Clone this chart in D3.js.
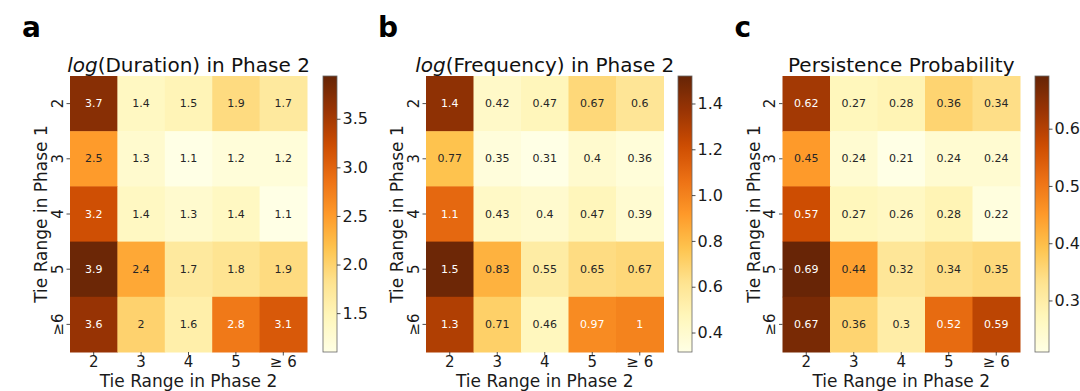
<!DOCTYPE html>
<html><head><meta charset="utf-8">
<script src="https://cdn.jsdelivr.net/npm/d3@7"></script>
<style>
html,body{margin:0;padding:0;background:#fff;}
svg{display:block;}
text{font-family:"DejaVu Sans",sans-serif;}
</style></head>
<body>
<svg id="chart" width="1080" height="391"></svg>
<script>
const rowLabels = ["2","3","4","5","≥6"];
const colLabels = ["2","3","4","5","≥ 6"];
const xAxisTitle = "Tie Range in Phase 2";
const yAxisTitle = "Tie Range in Phase 1";

const durationValues = [
  [3.7,1.4,1.5,1.9,1.7],
  [2.5,1.3,1.1,1.2,1.2],
  [3.2,1.4,1.3,1.4,1.1],
  [3.9,2.4,1.7,1.8,1.9],
  [3.6,2,1.6,2.8,3.1]
];
const frequencyValues = [
  [1.4,0.42,0.47,0.67,0.6],
  [0.77,0.35,0.31,0.4,0.36],
  [1.1,0.43,0.4,0.47,0.39],
  [1.5,0.83,0.55,0.65,0.67],
  [1.3,0.71,0.46,0.97,1]
];
const persistenceValues = [
  [0.62,0.27,0.28,0.36,0.34],
  [0.45,0.24,0.21,0.24,0.24],
  [0.57,0.27,0.26,0.28,0.22],
  [0.69,0.44,0.32,0.34,0.35],
  [0.67,0.36,0.3,0.52,0.59]
];
const durationRange = [1.1, 3.94];
const frequencyRange = [0.315, 1.52];
const persistenceRange = [0.21, 0.692];
const durationTicks = [1.5,2.0,2.5,3.0,3.5];
const frequencyTicks = [0.4,0.6,0.8,1.0,1.2,1.4];
const persistenceTicks = [0.3,0.4,0.5,0.6];

const panels = [
  {letter:"a", titleItalic:"log", title:"(Duration) in Phase 2", data:durationValues, range:durationRange, ticks:durationTicks, fmt:d3.format(".1f"), x0:70, x1:307, cbx:323},
  {letter:"b", titleItalic:"log", title:"(Frequency) in Phase 2", data:frequencyValues, range:frequencyRange, ticks:frequencyTicks, fmt:d3.format(".1f"), x0:426, x1:663.5, cbx:678},
  {letter:"c", titleItalic:"", title:"Persistence Probability", data:persistenceValues, range:persistenceRange, ticks:persistenceTicks, fmt:d3.format(".1f"), x0:782.5, x1:1020, cbx:1035}
];

const ylorbr = ["#ffffe5","#fff7bc","#fee391","#fec44f","#fe9929","#ec7014","#cc4c02","#993404","#662506"];
const plotTop = 76, plotBottom = 352, cbw = 14;

const svg = d3.select("#chart");
svg.append("rect").attr("width",1080).attr("height",391).attr("fill","#fff");

function lum(c){
  const rgb = d3.rgb(c);
  const f = v => { v/=255; return v<=0.03928 ? v/12.92 : Math.pow((v+0.055)/1.055,2.4); };
  return 0.2126*f(rgb.r)+0.7152*f(rgb.g)+0.0722*f(rgb.b);
}

panels.forEach(p => {
  const g = svg.append("g");
  const color = d3.scaleLinear()
    .domain(d3.range(ylorbr.length).map(i => p.range[0] + i*(p.range[1]-p.range[0])/(ylorbr.length-1)))
    .range(ylorbr).interpolate(d3.interpolateRgb).clamp(true);
  const x = d3.scaleBand().domain(colLabels).range([p.x0,p.x1]);
  const y = d3.scaleBand().domain(rowLabels).range([plotTop,plotBottom]);

  const cells = [];
  p.data.forEach((row,i) => row.forEach((v,j) => cells.push({r:rowLabels[i], c:colLabels[j], v})));

  g.selectAll("rect.cell").data(cells).join("rect")
    .attr("x",d=>x(d.c)).attr("y",d=>y(d.r))
    .attr("width",x.bandwidth()+0.5).attr("height",y.bandwidth()+0.5)
    .attr("fill",d=>color(d.v));

  g.selectAll("text.ann").data(cells).join("text")
    .attr("x",d=>x(d.c)+x.bandwidth()/2).attr("y",d=>y(d.r)+y.bandwidth()/2)
    .attr("text-anchor","middle").attr("dominant-baseline","central")
    .attr("font-size",11)
    .attr("fill",d=> lum(color(d.v))>0.408 ? "#262626" : "#ffffff")
    .text(d=>String(d.v));

  const xa = g.append("g").attr("transform",`translate(0,${plotBottom})`)
    .call(d3.axisBottom(x).tickSize(3.5).tickPadding(1));
  xa.select(".domain").remove();
  xa.selectAll("line").attr("stroke","#222").attr("stroke-width",0.8);
  xa.selectAll("text").attr("font-size",15).attr("fill","#1a1a1a").attr("font-family","DejaVu Sans");

  const ya = g.append("g").attr("transform",`translate(${p.x0},0)`)
    .call(d3.axisLeft(y).tickSize(3.5).tickPadding(0));
  ya.select(".domain").remove();
  ya.selectAll("line").attr("stroke","#222").attr("stroke-width",0.8);
  ya.selectAll("text").attr("font-size",15).attr("fill","#1a1a1a").attr("font-family","DejaVu Sans")
    .attr("x",null).attr("dy",null)
    .attr("text-anchor","middle")
    .attr("transform","translate(-7.5,0) rotate(-90)")
    .attr("y",0);

  const cx = (p.x0+p.x1)/2, cy = (plotTop+plotBottom)/2;
  g.append("text").attr("x",cx).attr("y",387).attr("text-anchor","middle")
    .attr("font-size",17).attr("fill","#1a1a1a").text(xAxisTitle);
  g.append("text").attr("transform",`translate(${p.x0-23},${cy}) rotate(-90)`)
    .attr("text-anchor","middle").attr("font-size",17).attr("fill","#1a1a1a").text(yAxisTitle);

  const t = g.append("text").attr("x",cx).attr("y",72).attr("text-anchor","middle")
    .attr("font-size",20).attr("fill","#111");
  if (p.titleItalic) t.append("tspan").attr("font-style","italic").text(p.titleItalic);
  t.append("tspan").text(p.title);

  g.append("text").attr("x",p.x0-48).attr("y",37)
    .attr("font-family","'Liberation Sans',Arial,sans-serif").attr("font-weight","bold")
    .attr("font-size",28).attr("fill","#000").text(p.letter);

  const cs = d3.scaleLinear().domain(p.range).range([plotBottom,plotTop]);
  const gid = "grad"+p.letter;
  const grad = svg.append("defs").append("linearGradient").attr("id",gid)
    .attr("x1",0).attr("y1",1).attr("x2",0).attr("y2",0);
  d3.range(0,1.0001,0.02).forEach(s => {
    grad.append("stop").attr("offset",s).attr("stop-color",color(p.range[0]+s*(p.range[1]-p.range[0])));
  });
  g.append("rect").attr("x",p.cbx).attr("y",plotTop).attr("width",cbw).attr("height",plotBottom-plotTop)
    .attr("fill",`url(#${gid})`).attr("stroke","#666").attr("stroke-width",0.8);
  const ca = g.append("g").attr("transform",`translate(${p.cbx+cbw},0)`)
    .call(d3.axisRight(cs).tickValues(p.ticks).tickFormat(p.fmt).tickSize(3.5).tickPadding(2));
  ca.select(".domain").remove();
  ca.selectAll("line").attr("stroke","#222").attr("stroke-width",0.8);
  ca.selectAll("text").attr("font-size",16).attr("fill","#1a1a1a").attr("font-family","DejaVu Sans");
});
</script>
</body></html>
